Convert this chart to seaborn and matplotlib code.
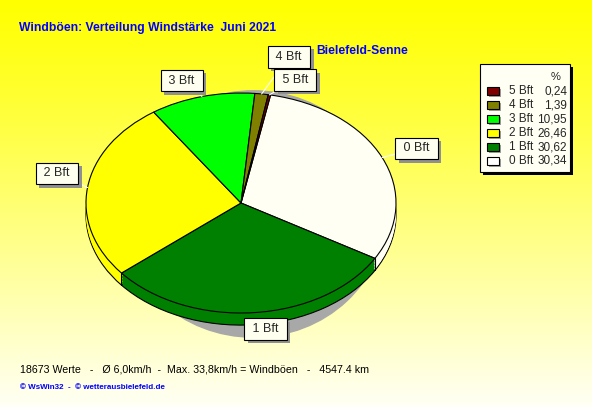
import numpy as np
import matplotlib
matplotlib.use("Agg")
import matplotlib.pyplot as plt
import matplotlib.patheffects as pe
from matplotlib.patches import Rectangle, Ellipse
from matplotlib import font_manager
import seaborn as sns

sns.set_style("white")
plt.rcParams['font.family'] = ['Liberation Sans', 'DejaVu Sans']

# data
categories = ['0 Bft', '1 Bft', '2 Bft', '3 Bft', '4 Bft', '5 Bft']
shares = [30.34, 30.62, 26.46, 10.95, 1.39, 0.24]
share_text = ['30,34', '30,62', '26,46', '10,95', '1,39', '0,24']
colors = ['#FFFFF4', '#008000', '#FFFF00', '#00FF00', '#808000', '#800000']
legend_colors = ['#FFFFFF', '#008000', '#FFFF00', '#00FF00', '#808000', '#800000']

# narrow bold font for the headings if there is one
names = {f.name for f in font_manager.fontManager.ttflist}
head_font = 'Liberation Sans Narrow' if 'Liberation Sans Narrow' in names else 'Liberation Sans'
head_size = 10.5 if head_font == 'Liberation Sans Narrow' else 8.7

W, H = 592, 407
fig = plt.figure(figsize=(W / 100, H / 100), dpi=100)

def fx(px):
    return px / W

def fy(py):
    return 1 - py / H

# background gradient
bg = fig.add_axes([0, 0, 1, 1])
grad = np.linspace(0, 1, 256)
img = np.zeros((256, 1, 3))
img[:, 0, 0] = 1
img[:, 0, 1] = 1
img[:, 0, 2] = 0.96 * grad ** 1.1
bg.imshow(img, aspect='auto', extent=[0, 1, 0, 1])
bg.set_axis_off()

# pie axes (ellipse: 155 px wide radius, 110 px tall radius)
ax = fig.add_axes([fx(21), fy(368), fx(440), 330 / H])
ax.set_axis_off()

depth = 0.11
start = 79
ax.add_patch(Ellipse((0.08, -0.1), 1.7, 2.24, color='#A8A8A8', zorder=0))

n_layers = 8
for k in range(n_layers, 0, -1):
    off = -depth * k / n_layers
    wp = dict(edgecolor='black' if k == n_layers else 'none', linewidth=0.8)
    ax.pie(shares, colors=colors, startangle=start, counterclock=False,
           center=(0, off), wedgeprops=wp)

ax.pie(shares, colors=colors, startangle=start, counterclock=False,
       wedgeprops=dict(edgecolor='black', linewidth=0.8))

# vertical edges of the front side
cum = start - 360 * np.cumsum([0] + shares) / sum(shares)
for a in cum:
    r = np.radians(a)
    if np.sin(r) < -0.05:
        ax.plot([np.cos(r), np.cos(r)], [np.sin(r), np.sin(r) - depth],
                color='black', lw=0.8, zorder=5)

# labels
nudge = {'0 Bft': (0.04, 0.0), '1 Bft': (0.06, 0.05), '2 Bft': (0.0, 0.1),
         '3 Bft': (-0.08, -0.05), '4 Bft': (0.15, 0.14), '5 Bft': (0.13, -0.06)}
for i, name in enumerate(categories):
    mid = np.radians((cum[i] + cum[i + 1]) / 2)
    lx = 1.2 * np.cos(mid) + nudge[name][0]
    ly = 1.2 * np.sin(mid) + nudge[name][1]
    ry = np.sin(mid) - (depth if np.sin(mid) < 0 else 0)
    t = ax.annotate(' ' + name + ' ', xy=(np.cos(mid), ry), xytext=(lx, ly),
                    ha='center', va='center', fontsize=9, zorder=10,
                    bbox=dict(boxstyle='square,pad=0.38', fc='#FFFFF0', ec='black', lw=0.8),
                    arrowprops=dict(arrowstyle='-', color='white', lw=0.8,
                                    shrinkA=0, shrinkB=0))
    t.get_bbox_patch().set_path_effects([
        pe.SimplePatchShadow(offset=(2.5, -2.5), shadow_rgbFace='#909090', alpha=1),
        pe.Normal()])

ax.set_aspect('auto')
ax.set_xlim(-440 / 2 / 155, 440 / 2 / 155)
ax.set_ylim(-1.5, 1.5)

# legend box
lg = fig.add_axes([fx(480), fy(172), fx(90), 108 / H])
lg.set_xlim(0, 90)
lg.set_ylim(108, 0)
lg.set_axis_off()
lg.add_patch(Rectangle((3, 3), 90, 108, fc='black', ec='none', clip_on=False, zorder=0))
lg.add_patch(Rectangle((0, 0), 90, 108, fc='#FFFFF4', ec='black', lw=0.8, clip_on=False, zorder=1))
lg.text(76, 13, '%', ha='center', va='center', fontsize=8, zorder=3)
for j, i in enumerate(range(len(categories) - 1, -1, -1)):
    yy = 27 + j * 14
    lg.add_patch(Rectangle((9, yy - 2), 12, 8, fc='#A0A0A0', ec='none', zorder=2))
    lg.add_patch(Rectangle((7, yy - 4), 12, 8, fc=legend_colors[i], ec='black', lw=0.8, zorder=3))
    lg.text(29, yy, categories[i], ha='left', va='center', fontsize=8.5, zorder=3)
    lg.text(87, yy, share_text[i], ha='right', va='center', fontsize=8.5, zorder=3)

# texts
fig.text(fx(19), fy(31), 'Windböen: Verteilung Windstärke  Juni 2021', color='#0000FF',
         fontsize=head_size, fontweight='bold', va='baseline', family=head_font)
fig.text(fx(316), fy(54), 'Bielefeld-Senne', color='#0000FF',
         fontsize=head_size, fontweight='bold', va='baseline', family=head_font)
fig.text(fx(20), fy(372), '18673 Werte   -   Ø 6,0km/h  -  Max. 33,8km/h = Windböen   -   4547.4 km',
         color='black', fontsize=7.7, va='baseline')
fig.text(fx(20), fy(389), '© WsWin32  -  © wetterausbielefeld.de', color='#0000FF',
         fontsize=5.8, fontweight='bold', va='baseline')

fig.savefig('out.png', dpi=100)
